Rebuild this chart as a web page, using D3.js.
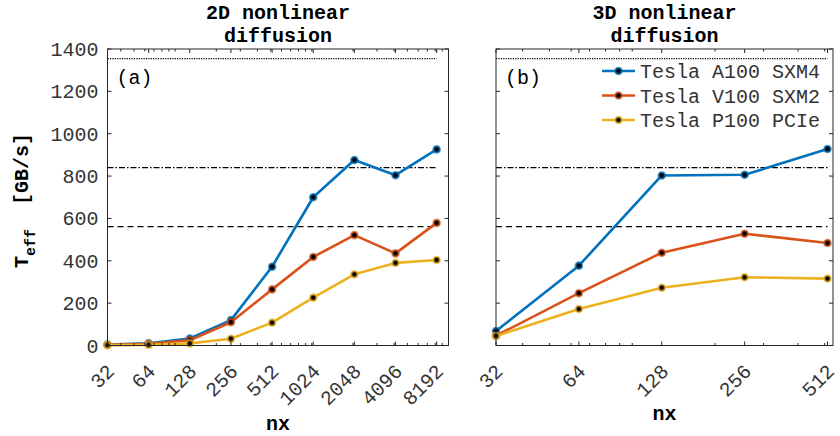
<!DOCTYPE html>
<html><head><meta charset="utf-8">
<script src="https://cdn.jsdelivr.net/npm/d3@7"></script>
<style>body{margin:0;background:#fff}svg{display:block}</style>
</head><body>
<svg id="c" width="840" height="436"></svg>
<script>
// ---- data ----
const nx2D = [32, 64, 128, 256, 512, 1024, 2048, 4096, 8192];
const a100_2D = [5, 10, 33, 120, 372, 700, 876, 804, 926];
const v100_2D = [3, 8, 25, 110, 265, 418, 521, 435, 579];
const p100_2D = [2, 3, 10, 32, 108, 226, 336, 390, 404];

const nx3D = [32, 64, 128, 256, 512];
const a100_3D = [68, 377, 803, 806, 928];
const v100_3D = [46, 247, 438, 528, 484];
const p100_3D = [45, 172, 273, 322, 316];

const seriesNames = ["Tesla A100 SXM4", "Tesla V100 SXM2", "Tesla P100 PCIe"];
const seriesColors = ["#0072BD", "#D95319", "#EDB120"];
const peakValues = [1355, 840, 561];
const peakDash = ["1.2,1.2", "6,2,1.5,2", "6,4"];
const yTicks = [0, 200, 400, 600, 800, 1000, 1200, 1400];
const titles = [["2D nonlinear", "diffusion"], ["3D nonlinear", "diffusion"]];
const panelTags = ["(a)", "(b)"];

// ---- layout ----
const FONT = "'Liberation Mono','Courier New',monospace";
const AX = "#262626";
const TXT = "#333";
const svg = d3.select("#c");
const yTop = 49, yBot = 345.5;
const y = d3.scaleLinear().domain([0, 1400]).range([yBot, yTop]);

const panels = [
  {nx: nx2D, data: [a100_2D, v100_2D, p100_2D], x: d3.scaleLog().domain([32, 10000]).range([107.5, 448.5]), tag: panelTags[0], title: titles[0], yLabels: true, xlabY: 430},
  {nx: nx3D, data: [a100_3D, v100_3D, p100_3D], x: d3.scaleLog().domain([32, 536]).range([496, 833]), tag: panelTags[1], title: titles[1], yLabels: false, xlabY: 420, legend: true}
];

function minorTicks(dom) {
  const out = [];
  for (let d = 10; d <= 100000; d *= 10)
    for (let k = 1; k <= 9; k++) { const v = k * d; if (v > dom[0] && v < dom[1]) out.push(v); }
  return out;
}

panels.forEach(p => {
  const x = p.x;
  const [x0, x1] = x.range();
  const g = svg.append("g");

  // peak lines
  peakValues.forEach((v, i) => {
    g.append("line").attr("x1", x(p.nx[0])).attr("x2", x(p.nx[p.nx.length - 1]))
      .attr("y1", y(v)).attr("y2", y(v))
      .attr("stroke", "#000").attr("stroke-width", 1.2).attr("stroke-dasharray", peakDash[i]);
  });

  // series
  const line = d3.line().x((d, i) => x(p.nx[i])).y(d => y(d));
  p.data.forEach((vals, si) => {
    g.append("path").datum(vals).attr("d", line).attr("fill", "none")
      .attr("stroke", seriesColors[si]).attr("stroke-width", 2.6).attr("stroke-linejoin", "round");
    g.selectAll(null).data(vals).enter().append("circle")
      .attr("cx", (d, i) => x(p.nx[i])).attr("cy", d => y(d)).attr("r", 3.2)
      .attr("fill", "#000").attr("stroke", seriesColors[si]).attr("stroke-opacity", 0.7).attr("stroke-width", 2.2);
  });

  // box
  g.append("rect").attr("x", x0).attr("y", yTop).attr("width", x1 - x0).attr("height", yBot - yTop)
    .attr("fill", "none").attr("stroke", AX).attr("stroke-width", 1);

  // y ticks
  yTicks.forEach(t => {
    g.append("line").attr("x1", x0).attr("x2", x0 + 4).attr("y1", y(t)).attr("y2", y(t)).attr("stroke", AX);
    g.append("line").attr("x1", x1).attr("x2", x1 - 4).attr("y1", y(t)).attr("y2", y(t)).attr("stroke", AX);
    if (p.yLabels) {
      g.append("text").attr("x", x0 - 9).attr("y", y(t)).attr("dy", "0.35em").attr("text-anchor", "end")
        .attr("font-family", FONT).attr("font-size", 20).attr("fill", TXT).text(t);
    }
  });

  // x ticks
  minorTicks(x.domain()).forEach(t => {
    [[yBot, -2.5], [yTop, 2.5]].forEach(([yy, d]) =>
      g.append("line").attr("x1", x(t)).attr("x2", x(t)).attr("y1", yy).attr("y2", yy + d).attr("stroke", AX));
  });
  p.nx.forEach(t => {
    [[yBot, -4], [yTop, 4]].forEach(([yy, d]) =>
      g.append("line").attr("x1", x(t)).attr("x2", x(t)).attr("y1", yy).attr("y2", yy + d).attr("stroke", AX));
    g.append("text").attr("transform", `translate(${x(t) + 3},${yBot + 22}) rotate(-45)`)
      .attr("text-anchor", "end").attr("dy", "0.35em")
      .attr("font-family", FONT).attr("font-size", 20).attr("fill", TXT).text(t);
  });

  // x label
  g.append("text").attr("x", (x0 + x1) / 2).attr("y", p.xlabY).attr("text-anchor", "middle")
    .attr("font-family", FONT).attr("font-weight", "bold").attr("font-size", 20).attr("fill", "#000").text("nx");

  // title
  p.title.forEach((t, i) => {
    g.append("text").attr("x", (x0 + x1) / 2).attr("y", 19 + i * 23).attr("text-anchor", "middle")
      .attr("font-family", FONT).attr("font-weight", "bold").attr("font-size", 20).attr("fill", "#000").text(t);
  });

  // tag
  g.append("text").attr("x", x0 + 9).attr("y", y(1200) - 14).attr("dy", "0.35em")
    .attr("font-family", FONT).attr("font-size", 20).attr("fill", "#000").text(p.tag);

  // legend
  if (p.legend) {
    seriesNames.forEach((n, i) => {
      const ly = 71 + i * 24.5;
      g.append("line").attr("x1", 602).attr("x2", 635).attr("y1", ly).attr("y2", ly)
        .attr("stroke", seriesColors[i]).attr("stroke-width", 2.6);
      g.append("circle").attr("cx", 618.5).attr("cy", ly).attr("r", 3.2).attr("fill", "#000")
        .attr("stroke", seriesColors[i]).attr("stroke-opacity", 0.7).attr("stroke-width", 2.2);
      g.append("text").attr("x", 640).attr("y", ly).attr("dy", "0.35em")
        .attr("font-family", FONT).attr("font-size", 20).attr("fill", TXT).text(n);
    });
  }
});

// y label
const yl = svg.append("text").attr("transform", "translate(28,268) rotate(-90)")
  .attr("text-anchor", "start").attr("font-family", FONT).attr("font-weight", "bold")
  .attr("font-size", 20).attr("fill", "#000").attr("xml:space", "preserve");
yl.append("tspan").text("T");
yl.append("tspan").attr("font-size", 15).attr("dy", 7).text("eff");
yl.append("tspan").attr("dy", -7).text("\u00a0\u00a0[GB/s]");
</script>
</body></html>
